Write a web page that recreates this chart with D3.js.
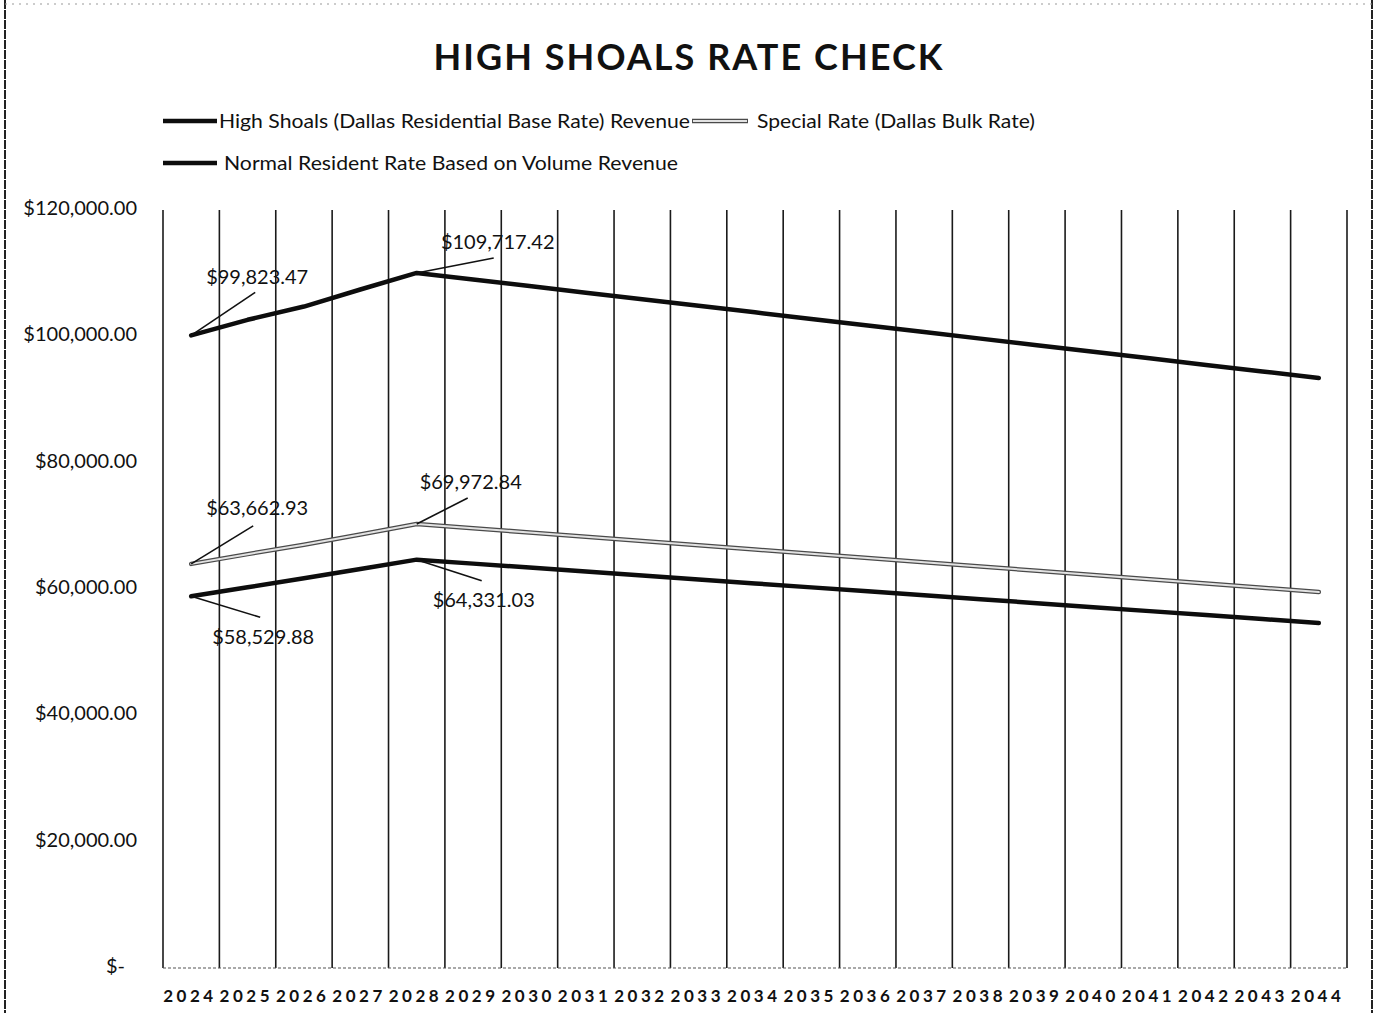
<!DOCTYPE html>
<html>
<head>
<meta charset="utf-8">
<script src="https://cdn.jsdelivr.net/npm/d3@7"></script>
<style>
  body { margin: 0; background: #fff; }
  svg { display: block; font-family: Lato, "Open Sans", sans-serif; }
</style>
</head>
<body>
<div id="chart"></div>
<script>
// values
var years = ["2024","2025","2026","2027","2028","2029","2030","2031","2032","2033","2034",
             "2035","2036","2037","2038","2039","2040","2041","2042","2043","2044"];

var normalRevenue = [99823.47, 102300, 104400, 107100, 109717.42, 108680, 107640, 106600, 105560,
                     104520, 103480, 102440, 101400, 100360, 99320, 98280, 97240, 96200, 95160, 94120, 93080];

var specialRate = [63662.93, 65200, 66700, 68300, 69972.84, 69300, 68630, 67950, 67280, 66610,
                   65930, 65260, 64590, 63920, 63240, 62570, 61900, 61220, 60550, 59880, 59200];

var highShoals = [58529.88, 59950, 61400, 62850, 64331.03, 63700, 63080, 62450, 61820, 61200,
                  60570, 59940, 59320, 58690, 58060, 57440, 56810, 56180, 55560, 54930, 54300];

var yTicks = [0, 20000, 40000, 60000, 80000, 100000, 120000];

var seriesNames = ["High Shoals (Dallas Residential Base Rate) Revenue",
                   "Special Rate (Dallas Bulk Rate)",
                   "Normal Resident Rate Based on Volume Revenue"];

var W = 1376, H = 1013;
var svg = d3.select("#chart").append("svg").attr("width", W).attr("height", H);

// page frame (scan edges)
svg.append("line").attr("x1", 5).attr("x2", 5).attr("y1", 0).attr("y2", H)
  .attr("stroke", "#222").attr("stroke-width", 2).attr("stroke-dasharray", "9,1");
svg.append("line").attr("x1", 1372).attr("x2", 1372).attr("y1", 0).attr("y2", H)
  .attr("stroke", "#222").attr("stroke-width", 2).attr("stroke-dasharray", "9,1");
svg.append("line").attr("x1", 5).attr("x2", 1372).attr("y1", 4).attr("y2", 4)
  .attr("stroke", "#999").attr("stroke-width", 1).attr("stroke-dasharray", "2,5");

// title
svg.append("text").attr("x", 688).attr("y", 70).attr("text-anchor", "middle")
  .attr("font-size", 36).attr("font-weight", "bold").attr("fill", "#111")
  .attr("textLength", 509).attr("lengthAdjust", "spacing")
  .text("HIGH SHOALS RATE CHECK");

var x = d3.scaleBand().domain(years).range([163, 1347]).padding(0);
var y = d3.scaleLinear().domain([0, 120000]).range([966, 208]);

function cx(i) { return x(years[i]) + x.bandwidth() / 2; }

// vertical gridlines at category boundaries
var bounds = d3.range(years.length + 1).map(function(i) { return 163 + i * x.step(); });
svg.append("g").selectAll("line").data(bounds).enter().append("line")
  .attr("x1", function(d) { return d; }).attr("x2", function(d) { return d; })
  .attr("y1", 210).attr("y2", 968)
  .attr("stroke", "#1a1a1a").attr("stroke-width", 1.6);

// bottom axis (dotted in the scan)
svg.append("line").attr("x1", 163).attr("x2", 1347).attr("y1", 968).attr("y2", 968)
  .attr("stroke", "#555").attr("stroke-width", 1.2).attr("stroke-dasharray", "3,2");

// y axis labels
var yAxis = d3.axisLeft(y).tickValues(yTicks).tickSize(0).tickPadding(0)
  .tickFormat(function(d) { return d === 0 ? "$-" : "$" + d3.format(",.2f")(d); });
var yg = svg.append("g").attr("transform", "translate(137,0)").call(yAxis);
yg.select(".domain").remove();
yg.selectAll("text").attr("font-size", 20).attr("fill", "#111")
  .attr("font-family", "Lato, sans-serif")
  .attr("dx", function(d) { return d === 0 ? -12 : 0; });

// x axis labels
var xAxis = d3.axisBottom(x).tickSize(0).tickPadding(0);
var xg = svg.append("g").attr("transform", "translate(-3,990)").call(xAxis);
xg.select(".domain").remove();
xg.selectAll("text").attr("font-size", 17).attr("font-weight", "bold").attr("fill", "#111")
  .attr("font-family", "Lato, sans-serif")
  .attr("textLength", 50).attr("lengthAdjust", "spacing");

var line = d3.line()
  .x(function(d, i) { return cx(i); })
  .y(function(d) { return y(d); });

// special rate: hollow grey line
svg.append("path").datum(specialRate).attr("d", line).attr("fill", "none")
  .attr("stroke", "#4a4a4a").attr("stroke-width", 4.5).attr("stroke-linejoin", "round").attr("stroke-linecap", "round");
svg.append("path").datum(specialRate).attr("d", line).attr("fill", "none")
  .attr("stroke", "#e2e2e2").attr("stroke-width", 2).attr("stroke-linejoin", "round").attr("stroke-linecap", "round");

[highShoals, normalRevenue].forEach(function(s) {
  svg.append("path").datum(s).attr("d", line).attr("fill", "none")
    .attr("stroke", "#0d0d0d").attr("stroke-width", 4.5)
    .attr("stroke-linejoin", "round").attr("stroke-linecap", "round");
});

// data labels with leader lines
var labelSpots = [
  { s: normalRevenue, i: 0, lx: 64, ly: -43, tx: 66, ty: -58 },
  { s: normalRevenue, i: 4, lx: 77, ly: -15, tx: 81, ty: -31 },
  { s: specialRate,   i: 0, lx: 62, ly: -38, tx: 66, ty: -56 },
  { s: specialRate,   i: 4, lx: 51, ly: -26, tx: 54, ty: -42 },
  { s: highShoals,    i: 0, lx: 69, ly: 21,  tx: 72, ty: 41 },
  { s: highShoals,    i: 4, lx: 65, ly: 21,  tx: 67, ty: 40 }
];
var lab = svg.append("g");
labelSpots.forEach(function(d) {
  var px = cx(d.i), py = y(d.s[d.i]);
  lab.append("line").attr("x1", px).attr("y1", py).attr("x2", px + d.lx).attr("y2", py + d.ly)
    .attr("stroke", "#111").attr("stroke-width", 1.6);
  lab.append("text").attr("x", px + d.tx).attr("y", py + d.ty + 7)
    .attr("text-anchor", "middle").attr("font-size", 20).attr("fill", "#111")
    .text("$" + d3.format(",.2f")(d.s[d.i]));
});

// legend
var legend = [
  { name: seriesNames[0], x: 163, y: 121, w: 54, tx: 219, tl: 471, hollow: false },
  { name: seriesNames[1], x: 692, y: 121, w: 56, tx: 757, tl: 278, hollow: true },
  { name: seriesNames[2], x: 163, y: 163, w: 54, tx: 224, tl: 454, hollow: false }
];
var lg = svg.append("g");
legend.forEach(function(d) {
  lg.append("line").attr("x1", d.x).attr("x2", d.x + d.w).attr("y1", d.y).attr("y2", d.y)
    .attr("stroke", d.hollow ? "#4a4a4a" : "#0d0d0d").attr("stroke-width", 4.5);
  if (d.hollow) {
    lg.append("line").attr("x1", d.x + 1).attr("x2", d.x + d.w - 1).attr("y1", d.y).attr("y2", d.y)
      .attr("stroke", "#e2e2e2").attr("stroke-width", 2);
  }
  lg.append("text").attr("x", d.tx).attr("y", d.y + 7).attr("font-size", 20).attr("fill", "#111")
    .attr("textLength", d.tl).attr("lengthAdjust", "spacingAndGlyphs")
    .text(d.name);
});
</script>
</body>
</html>
